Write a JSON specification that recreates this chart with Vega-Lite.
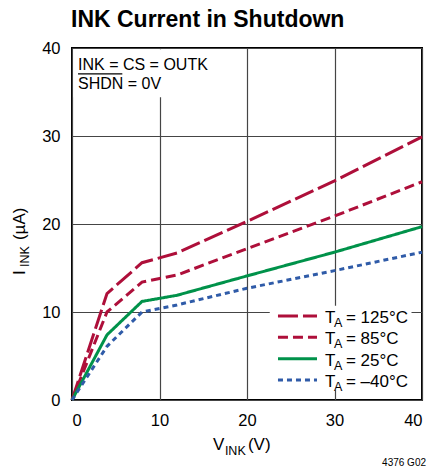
{
  "$schema": "https://vega.github.io/schema/vega-lite/v6.json",
  "width": 350,
  "height": 352,
  "autosize": "none",
  "padding": {"left": 72, "top": 48, "right": 9, "bottom": 72},
  "background": "white",
  "config": {
    "view": {"stroke": "black", "strokeWidth": 2},
    "axis": {
      "grid": true, "gridColor": "#454545", "gridWidth": 1.2,
      "ticks": false, "tickSize": 0, "domain": false,
      "labelFont": "Liberation Sans", "labelFontWeight": "normal",
      "labelFontSize": 16.5, "labelColor": "black", "title": null
    },
    "text": {"font": "Liberation Sans", "fontWeight": "normal", "color": "black"}
  },
  "datasets": {
    "curves": [
      {"series": "125", "v": 0, "i": 0}, {"series": "125", "v": 4, "i": 12.1}, {"series": "125", "v": 8, "i": 15.6},
      {"series": "125", "v": 12, "i": 16.7}, {"series": "125", "v": 20, "i": 20.3}, {"series": "125", "v": 30, "i": 24.9},
      {"series": "125", "v": 40, "i": 29.9},
      {"series": "85", "v": 0, "i": 0}, {"series": "85", "v": 4, "i": 10.0}, {"series": "85", "v": 8, "i": 13.4},
      {"series": "85", "v": 12, "i": 14.2}, {"series": "85", "v": 20, "i": 17.2}, {"series": "85", "v": 30, "i": 20.9},
      {"series": "85", "v": 40, "i": 24.8},
      {"series": "25", "v": 0, "i": 0}, {"series": "25", "v": 4, "i": 7.4}, {"series": "25", "v": 8, "i": 11.2},
      {"series": "25", "v": 12, "i": 11.9}, {"series": "25", "v": 20, "i": 14.1}, {"series": "25", "v": 30, "i": 16.8},
      {"series": "25", "v": 40, "i": 19.7},
      {"series": "-40", "v": 0, "i": 0}, {"series": "-40", "v": 4, "i": 6.1}, {"series": "-40", "v": 8, "i": 10.0},
      {"series": "-40", "v": 12, "i": 10.8}, {"series": "-40", "v": 20, "i": 12.7}, {"series": "-40", "v": 30, "i": 14.7},
      {"series": "-40", "v": 40, "i": 16.8}
    ],
    "legend": [
      {"series": "125", "label": "= 125°C"},
      {"series": "85", "label": "= 85°C"},
      {"series": "25", "label": "= 25°C"},
      {"series": "-40", "label": "= –40°C"}
    ],
    "one": [{"note": "annotation"}]
  },
  "resolve": {"scale": {"y": "independent"}},
  "layer": [
    {
      "data": {"name": "curves"},
      "layer": [
        {
          "data": {"name": "one"},
          "mark": {"type": "rect", "fill": "white"},
          "encoding": {
            "x": {"datum": 0.15, "type": "quantitative"}, "x2": {"datum": 16},
            "y": {"datum": 34.4, "type": "quantitative"}, "y2": {"datum": 39.85}
          }
        },
        {
          "data": {"name": "one"},
          "mark": {"type": "rect", "fill": "white"},
          "encoding": {
            "x": {"datum": 22.6, "type": "quantitative"}, "x2": {"datum": 38.8},
            "y": {"datum": 1.1, "type": "quantitative"}, "y2": {"datum": 10.7}
          }
        },
        {
          "mark": {"type": "line", "strokeWidth": 3},
          "encoding": {
            "x": {"field": "v", "type": "quantitative", "scale": {"domain": [0, 40], "nice": false},
                  "axis": {"values": [0, 10, 20, 30, 40], "labelPadding": 12}},
            "y": {"field": "i", "type": "quantitative", "scale": {"domain": [0, 40], "nice": false},
                  "axis": {"values": [0, 10, 20, 30, 40], "labelPadding": 12}},
            "color": {"field": "series", "type": "nominal", "legend": null,
                      "scale": {"domain": ["125", "85", "25", "-40"], "range": ["#AE0F3A", "#AE0F3A", "#00924A", "#2F5BA8"]}},
            "strokeDash": {"field": "series", "type": "nominal", "legend": null,
                           "scale": {"domain": ["125", "85", "25", "-40"], "range": [[20, 5], [10, 5], [1, 0], [5, 4]]}}
          }
        },
        {
          "data": {"name": "one"},
          "mark": {"type": "text", "text": "INK Current in Shutdown", "align": "left", "baseline": "alphabetic", "dy": -21, "dx": -1,
                   "font": "Liberation Sans", "fontWeight": "bold", "fontSize": 23, "clip": false},
          "encoding": {"x": {"datum": 0, "type": "quantitative"}, "y": {"datum": 40, "type": "quantitative"}}
        },
        {
          "data": {"name": "one"},
          "mark": {"type": "text", "text": "INK = CS = OUTK", "align": "left", "baseline": "alphabetic",
                   "fontSize": 16, "clip": false},
          "encoding": {"x": {"datum": 0.69, "type": "quantitative"}, "y": {"datum": 37.5, "type": "quantitative"}}
        },
        {
          "data": {"name": "one"},
          "mark": {"type": "text", "text": "SHDN = 0V", "align": "left", "baseline": "alphabetic",
                   "fontSize": 16, "clip": false},
          "encoding": {"x": {"datum": 0.69, "type": "quantitative"}, "y": {"datum": 35.3, "type": "quantitative"}}
        },
        {
          "data": {"name": "one"},
          "mark": {"type": "rule", "color": "black", "strokeWidth": 1.2},
          "encoding": {"x": {"datum": 0.69, "type": "quantitative"}, "x2": {"datum": 5.75}, "y": {"datum": 37.05, "type": "quantitative"}}
        },
        {
          "data": {"name": "one"},
          "mark": {"type": "text", "text": "V", "align": "left", "baseline": "alphabetic",
                   "fontSize": 17, "clip": false},
          "encoding": {"x": {"datum": 16.1, "type": "quantitative"}, "y": {"datum": -5.68, "type": "quantitative"}}
        },
        {
          "data": {"name": "one"},
          "mark": {"type": "text", "text": "INK", "align": "left", "baseline": "alphabetic", "dx": 12, "dy": 5,
                   "fontSize": 12.5, "clip": false},
          "encoding": {"x": {"datum": 16.1, "type": "quantitative"}, "y": {"datum": -5.68, "type": "quantitative"}}
        },
        {
          "data": {"name": "one"},
          "mark": {"type": "text", "text": "(V)", "align": "left", "baseline": "alphabetic", "dx": 35,
                   "fontSize": 17, "clip": false},
          "encoding": {"x": {"datum": 16.1, "type": "quantitative"}, "y": {"datum": -5.68, "type": "quantitative"}}
        },
        {
          "data": {"name": "one"},
          "mark": {"type": "text", "text": "I", "align": "left", "baseline": "alphabetic", "angle": 270,
                   "fontSize": 17, "clip": false},
          "encoding": {"x": {"datum": -5.37, "type": "quantitative"}, "y": {"datum": 14.2, "type": "quantitative"}}
        },
        {
          "data": {"name": "one"},
          "mark": {"type": "text", "text": "INK", "align": "left", "baseline": "alphabetic", "angle": 270, "dx": 8, "dy": 4,
                   "fontSize": 12.5, "clip": false},
          "encoding": {"x": {"datum": -5.37, "type": "quantitative"}, "y": {"datum": 14.2, "type": "quantitative"}}
        },
        {
          "data": {"name": "one"},
          "mark": {"type": "text", "text": "(µA)", "align": "left", "baseline": "alphabetic", "angle": 270, "dx": 35,
                   "fontSize": 17, "clip": false},
          "encoding": {"x": {"datum": -5.37, "type": "quantitative"}, "y": {"datum": 14.2, "type": "quantitative"}}
        },
        {
          "data": {"name": "one"},
          "mark": {"type": "text", "text": "4376 G02", "align": "right", "baseline": "alphabetic",
                   "fontSize": 10, "clip": false},
          "encoding": {"x": {"datum": 40.46, "type": "quantitative"}, "y": {"datum": -7.5, "type": "quantitative"}}
        }
      ]
    },
    {
      "data": {"name": "legend"},
      "encoding": {
        "y": {"field": "series", "type": "ordinal", "axis": null,
              "scale": {"type": "point", "domain": ["125", "85", "25", "-40"], "range": [268, 332], "padding": 0}}
      },
      "layer": [
        {
          "mark": {"type": "rule", "strokeWidth": 3},
          "encoding": {
            "x": {"datum": 23.54, "type": "quantitative"}, "x2": {"datum": 28.0},
            "color": {"field": "series", "type": "nominal", "legend": null,
                      "scale": {"domain": ["125", "85", "25", "-40"], "range": ["#AE0F3A", "#AE0F3A", "#00924A", "#2F5BA8"]}},
            "strokeDash": {"field": "series", "type": "nominal", "legend": null,
                           "scale": {"domain": ["125", "85", "25", "-40"], "range": [[20, 5], [10, 5], [1, 0], [5, 4]]}}
          }
        },
        {
          "mark": {"type": "text", "text": "T", "align": "left", "baseline": "alphabetic", "dy": 7,
                   "fontSize": 17},
          "encoding": {"x": {"datum": 28.91, "type": "quantitative"}}
        },
        {
          "mark": {"type": "text", "text": "A", "align": "left", "baseline": "alphabetic", "dx": 9, "dy": 11,
                   "fontSize": 12.5},
          "encoding": {"x": {"datum": 28.91, "type": "quantitative"}}
        },
        {
          "mark": {"type": "text", "align": "left", "baseline": "alphabetic", "dx": 21, "dy": 7,
                   "fontSize": 17},
          "encoding": {"x": {"datum": 28.91, "type": "quantitative"}, "text": {"field": "label"}}
        }
      ]
    }
  ]
}
